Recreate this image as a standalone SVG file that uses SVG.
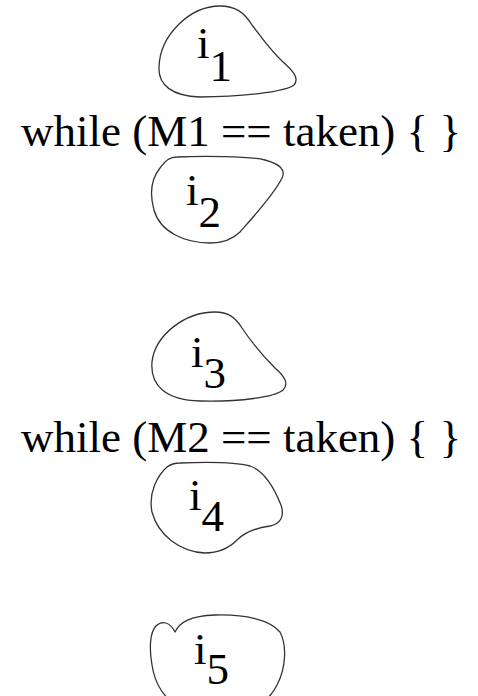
<svg xmlns="http://www.w3.org/2000/svg" width="478" height="696" viewBox="0 0 478 696">
<style>
.blob{fill:none;stroke:#333;stroke-width:1.3;stroke-linejoin:round}
.t{font-family:"Liberation Serif","Times New Roman",serif;font-size:45px;fill:#000}
.c{text-anchor:middle}
</style>
<rect width="478" height="696" fill="#fff"/>
<g id="i1">
<path class="blob" d="M220,6 C190,6 160,35 159,67 C158,85 172,96 200,97 C240,97 285,92 294,85 C300,78 292,70 283,62 C270,50 262,38 252,25 C244,12 235,6 220,6 Z"/>
<text class="t" x="197" y="58">i<tspan dy="23">1</tspan></text>
</g>
<g id="loop1">
<text class="t c" x="241" y="146">while (M1 == taken) { }</text>
</g>
<g id="i2">
<path class="blob" d="M177,157 C200,156 250,156 265,160 C280,164 286,170 282,178 C275,193 255,215 240,232 C232,240 222,243 210,243 C185,243 160,232 154,210 C149,192 152,178 160,168 C166,160 170,157 177,157 Z"/>
<text class="t" x="186" y="205">i<tspan dy="22">2</tspan></text>
</g>
<g id="i3">
<path class="blob" d="M215,312 C185,312 155,335 152,362 C150,385 165,400 200,401 C240,402 275,397 283,390 C290,383 283,375 275,368 C262,355 250,340 242,328 C235,317 228,312 215,312 Z"/>
<text class="t" x="191" y="367">i<tspan dy="21">3</tspan></text>
</g>
<g id="loop2">
<text class="t c" x="241" y="452">while (M2 == taken) { }</text>
</g>
<g id="i4">
<path class="blob" d="M180,463 C205,462 235,462 250,466 C265,471 275,490 281,505 C285,517 280,524 270,526 C255,528 245,532 237,540 C228,549 218,553 205,553 C180,552 158,535 152,512 C148,492 158,475 167,467 C171,464 175,463 180,463 Z"/>
<text class="t" x="189" y="510">i<tspan dy="21">4</tspan></text>
</g>
<g id="i5">
<path class="blob" d="M175,632 C180,622 190,616 215,615 C245,614 270,620 280,632 C287,645 286,668 277,685 C272,695 266,702 255,706 L180,706 C165,700 155,685 152,665 C149,648 150,632 156,626 C162,620 170,622 175,632 Z"/>
<text class="t" x="194" y="664">i<tspan dy="20">5</tspan></text>
</g>
</svg>
